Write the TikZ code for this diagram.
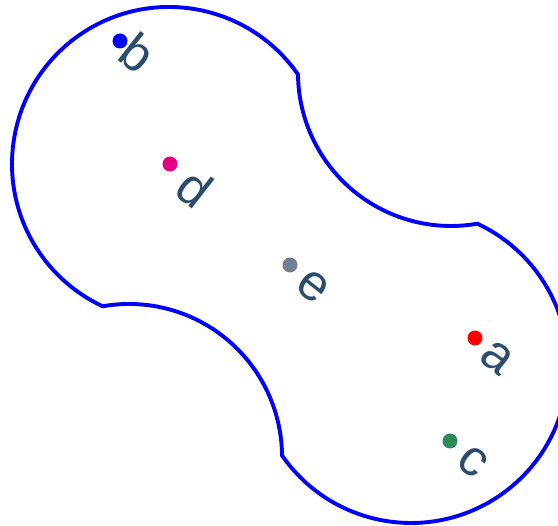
\documentclass[tikz,border=0pt]{standalone}
\usepackage{fontspec}
\setmainfont{Liberation Sans}
\definecolor{labcol}{RGB}{44,76,110}
\definecolor{dotb}{RGB}{0,0,255}
\definecolor{dotd}{RGB}{228,0,128}
\definecolor{dote}{RGB}{112,128,144}
\definecolor{dota}{RGB}{255,0,0}
\definecolor{dotc}{RGB}{46,139,87}
\begin{document}
\begin{tikzpicture}[x=1pt,y=1pt,
  outline/.style={draw=blue,line width=3.9pt},
  dot/.style={circle,inner sep=0pt,minimum size=15pt},
  lab/.style={text=labcol,inner sep=0pt,rotate=-38,font=\fontsize{51}{51}\selectfont}]
\useasboundingbox (0,0) rectangle (558,526);
\clip (0,0) rectangle (558,526);
\coordinate (J1) at (298.0,451.5);
\draw[outline] (J1)
  arc[start angle=34.75, end angle=245.0, radius=157]
  arc[start angle=99.94, end angle=0.56, radius=153]
  arc[start angle=214.75, end angle=425.0, radius=157]
  arc[start angle=279.94, end angle=180.56, radius=153] -- cycle;
\node[dot,fill=dotb] (b) at (120,485) {};
\node[dot,fill=dotd] (d) at (170,362) {};
\node[dot,fill=dote] (e) at (290,261) {};
\node[dot,fill=dota] (a) at (475,188) {};
\node[dot,fill=dotc] (c) at (450,85) {};
\node[lab] (lb) at (138,473) {b};
\node[lab] (ld) at (195,338) {d};
\node[lab] (le) at (313,239) {e};
\node[lab] (la) at (497,168) {a};
\node[lab] (lc) at (473,64) {c};
\end{tikzpicture}
\end{document}
